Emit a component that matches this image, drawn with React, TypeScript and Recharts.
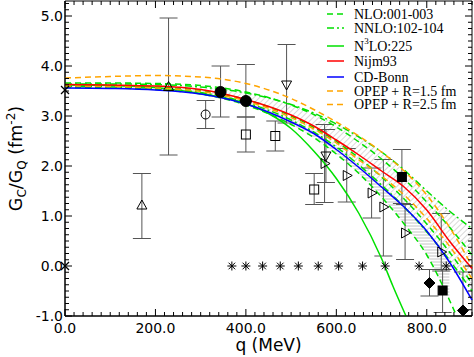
import React from 'react';
import { ComposedChart, Line, Area, Scatter, XAxis, YAxis, ErrorBar, ReferenceArea } from 'recharts';

const GREEN = '#00e000';
const RED = '#ff0000';
const BLUE = '#0000ff';
const ORANGE = '#ffa500';
const ERR = '#555555';

// ---------- theory curves (G_C/G_Q vs q) ----------
const curveQ = [0, 100, 200, 300, 400, 500, 550, 600, 650, 700, 750, 800, 850, 900];
const nijm93 = [3.63, 3.62, 3.6, 3.53, 3.33, 3.02, 2.8, 2.52, 2.22, 1.9, 1.58, 1.12, 0.5, -0.05];
const cdBonn = [3.56, 3.55, 3.52, 3.44, 3.24, 2.88, 2.65, 2.33, 1.97, 1.58, 1.18, 0.7, 0.08, -0.68];
const opep15 = [3.76, 3.79, 3.81, 3.78, 3.65, 3.35, 3.13, 2.88, 2.6, 2.28, 1.9, 1.42, 0.78, 0.0];
const opep25 = [3.6, 3.59, 3.56, 3.49, 3.3, 2.97, 2.74, 2.46, 2.12, 1.8, 1.42, 0.95, 0.4, -0.25];
const nnloUpper = [3.64, 3.64, 3.63, 3.58, 3.46, 3.23, 3.06, 2.84, 2.58, 2.28, 1.92, 1.5, 1.1, 0.75];
const nnloLower = [3.59, 3.58, 3.55, 3.47, 3.27, 2.92, 2.68, 2.38, 2.02, 1.62, 1.18, 0.68, 0.12, -0.5];
const nloUpper = [3.66, 3.66, 3.65, 3.61, 3.48, 3.22, 3.03, 2.78, 2.48, 2.14, 1.74, 1.28, 0.78, 0.22];
const nloMid = [3.61, 3.6, 3.58, 3.51, 3.33, 3.0, 2.77, 2.49, 2.16, 1.78, 1.34, 0.84, 0.28, -0.35];
const nloLowerQ = [0, 100, 200, 300, 400, 500, 550, 600, 650, 700, 750, 800, 850, 866];
const nloLower = [3.57, 3.56, 3.53, 3.44, 3.22, 2.83, 2.57, 2.24, 1.85, 1.38, 0.84, 0.22, -0.68, -1.0];
const n3loQ = [0, 100, 200, 300, 400, 450, 500, 550, 600, 650, 700, 725, 754];
const n3lo = [3.62, 3.61, 3.57, 3.45, 3.25, 3.05, 2.75, 2.3, 1.75, 1.05, 0.15, -0.4, -1.0];

// ---------- experimental points ----------
const crossPts = [{ q: 0, v: 3.52 }, { q: 0, v: 0.0 }];
const triUpPts = [
  { q: 170, v: 1.21, lo: 0.55, hi: 1.85 },
  { q: 229, v: 3.58, lo: 2.22, hi: 4.96 },
];
const circOpenPts = [{ q: 311, v: 3.03, lo: 2.75, hi: 3.31 }];
const circFilledPts = [
  { q: 344, v: 3.48, lo: 2.98, hi: 4.0 },
  { q: 400, v: 3.3, lo: 2.98, hi: 4.03 },
];
const sqOpenPts = [
  { q: 400, v: 2.63, lo: 2.28, hi: 2.98 },
  { q: 465, v: 2.6, lo: 2.3, hi: 2.9 },
  { q: 551, v: 1.53, lo: 1.23, hi: 1.85 },
];
const triDownPts = [
  { q: 490, v: 3.63, lo: 2.86, hi: 4.43 },
  { q: 577, v: 2.21, lo: 1.67, hi: 2.73 },
];
const triRightPts = [
  { q: 574, v: 2.05, lo: 1.27, hi: 2.83 },
  { q: 623, v: 1.81, lo: 1.28, hi: 2.35 },
  { q: 678, v: 1.46, lo: 0.96, hi: 1.96 },
  { q: 704, v: 1.18, lo: 0.2, hi: 2.13 },
  { q: 752, v: 0.66, lo: 0.13, hi: 1.23 },
  { q: 832, v: 0.28, lo: -0.1, hi: 1.05 },
];
const sqFilledPts = [
  { q: 745, v: 1.78, lo: 1.25, hi: 2.33 },
  { q: 835, v: -0.49, lo: -0.93, hi: -0.07 },
];
const diamondPts = [
  { q: 806, v: -0.34, lo: -0.6, hi: -0.07 },
  { q: 880, v: -0.89, lo: -1.0, hi: -0.12 },
];
const asteriskQ = [369, 400, 437, 476, 516, 560, 605, 658, 708, 783, 843];

// ---------- ticks / labels ----------
const xDomain = [0, 900];
const yDomain = [-1, 5.3];
const xMajorTicks = [0, 200, 400, 600, 800];
const xMinorStep = 20;
const yMajorTicks = [-1, 0, 1, 2, 3, 4, 5];
const yMinorPerUnit = 8;

const legendItems = [
  { label: 'NLO:001-003', color: GREEN, dash: '6 4' },
  { label: 'NNLO:102-104', color: GREEN, dash: '7 3 2 3' },
  { label: 'N3LO:225', color: GREEN, dash: undefined },
  { label: 'Nijm93', color: RED, dash: undefined },
  { label: 'CD-Bonn', color: BLUE, dash: undefined },
  { label: 'OPEP + R=1.5 fm', color: ORANGE, dash: '6 4' },
  { label: 'OPEP + R=2.5 fm', color: ORANGE, dash: '6 4' },
];

// ---------- derived tables ----------
const zip = (qs: number[], vs: number[]) => qs.map((q, i) => ({ q, v: vs[i] }));
const withErr = (pts: { q: number; v: number; lo: number; hi: number }[]) =>
  pts.map((p) => ({ ...p, err: [p.v - p.lo, p.hi - p.v] }));
const xTicks: number[] = [];
for (let q = xDomain[0]; q <= xDomain[1]; q += xMinorStep) xTicks.push(q);
const yTicks: number[] = [];
for (let k = -1 * yMinorPerUnit; k <= 5.3 * yMinorPerUnit; k++) yTicks.push(k / yMinorPerUnit);
const nnloBand = curveQ.map((q, i) => ({ q, band: [nnloLower[i], nnloUpper[i]] }));
const lowBand = curveQ.slice(0, 13).map((q, i) => ({ q, band: [nloLower[i], nnloLower[i]] }));
const asteriskPts = asteriskQ.map((q) => ({ q, v: 0 }));

// ---------- layout ----------
const W = 474;
const H = 357;
const PL = 65;
const PR = 472;
const PT = 1;
const PB = 316;
const TICK_FONT = 'DejaVu Sans, sans-serif';

const isMajorX = (v: number) => xMajorTicks.includes(v);
const isMajorY = (v: number) => yMajorTicks.some((m) => Math.abs(m - v) < 1e-9);

// bottom tick also draws the matching inward tick on the top frame
const BottomTick = (p: any) => {
  const x = p.x;
  const v = p.payload.value;
  const maj = isMajorX(v);
  const len = maj ? 7 : 4;
  return (
    <g>
      <line x1={x} x2={x} y1={PB} y2={PB - len} stroke="#000" strokeWidth={1} />
      <line x1={x} x2={x} y1={PT} y2={PT + len} stroke="#000" strokeWidth={1} />
      {maj && (
        <text x={x} y={PB + 17} textAnchor="middle" fontFamily={TICK_FONT} fontSize={14} fill="#000">
          {v.toFixed(1)}
        </text>
      )}
    </g>
  );
};
// left tick also draws the matching inward tick on the right frame
const LeftTick = (p: any) => {
  const y = p.y;
  const v = p.payload.value;
  const maj = isMajorY(v);
  const len = maj ? 7 : 4;
  return (
    <g>
      <line x1={PL} x2={PL + len} y1={y} y2={y} stroke="#000" strokeWidth={1} />
      <line x1={PR} x2={PR - len} y1={y} y2={y} stroke="#000" strokeWidth={1} />
      {maj && (
        <text x={63} y={y + 5} textAnchor="end" fontFamily={TICK_FONT} fontSize={14} fill="#000">
          {v.toFixed(1)}
        </text>
      )}
    </g>
  );
};

const XTitle = () => (
  <text x={(PL + PR) / 2} y={351} textAnchor="middle" fontFamily={TICK_FONT} fontSize={17} fill="#000">
    q (MeV)
  </text>
);
const YTitle = () => (
  <text
    transform="rotate(-90)"
    x={-(PT + PB) / 2}
    y={22}
    textAnchor="middle"
    fontFamily={TICK_FONT}
    fontSize={17.5}
    fill="#000"
  >
    <tspan>G</tspan>
    <tspan fontSize={12} dy={4}>C</tspan>
    <tspan dy={-4}>/G</tspan>
    <tspan fontSize={12} dy={4}>Q</tspan>
    <tspan dy={-4}> (fm</tspan>
    <tspan fontSize={12} dy={-7}>-2</tspan>
    <tspan dy={7}>)</tspan>
  </text>
);

// ---------- symbols ----------
const shapeFor = (kind: string) => (p: any) => {
  const { cx, cy } = p;
  if (cx == null || cy == null) return <g />;
  switch (kind) {
    case 'cross':
      return (
        <g stroke="#000" strokeWidth={1.2}>
          <line x1={cx - 4} y1={cy - 4} x2={cx + 4} y2={cy + 4} />
          <line x1={cx - 4} y1={cy + 4} x2={cx + 4} y2={cy - 4} />
        </g>
      );
    case 'triUp':
      return <polygon points={`${cx},${cy - 5.5} ${cx - 5},${cy + 3.5} ${cx + 5},${cy + 3.5}`} fill="none" stroke="#000" strokeWidth={1} />;
    case 'triDown':
      return <polygon points={`${cx},${cy + 5.5} ${cx - 5},${cy - 3.5} ${cx + 5},${cy - 3.5}`} fill="none" stroke="#000" strokeWidth={1} />;
    case 'triRight':
      return <polygon points={`${cx + 5.5},${cy} ${cx - 3.5},${cy - 5} ${cx - 3.5},${cy + 5}`} fill="none" stroke="#000" strokeWidth={1} />;
    case 'circOpen':
      return <circle cx={cx} cy={cy} r={4.5} fill="none" stroke="#000" strokeWidth={1} />;
    case 'circFilled':
      return <circle cx={cx} cy={cy} r={5.5} fill="#000" stroke="#000" strokeWidth={1} />;
    case 'sqOpen':
      return <rect x={cx - 4.5} y={cy - 4.5} width={9} height={9} fill="none" stroke="#000" strokeWidth={1} />;
    case 'sqFilled':
      return <rect x={cx - 4.5} y={cy - 4.5} width={9} height={9} fill="#000" stroke="#000" strokeWidth={1} />;
    case 'diamond':
      return <polygon points={`${cx},${cy - 5.5} ${cx + 5.5},${cy} ${cx},${cy + 5.5} ${cx - 5.5},${cy}`} fill="#000" stroke="#000" strokeWidth={1} />;
    case 'asterisk':
      return (
        <g stroke="#000" strokeWidth={1}>
          <line x1={cx - 4.5} y1={cy} x2={cx + 4.5} y2={cy} />
          <line x1={cx} y1={cy - 4.5} x2={cx} y2={cy + 4.5} />
          <line x1={cx - 3.3} y1={cy - 3.3} x2={cx + 3.3} y2={cy + 3.3} />
          <line x1={cx - 3.3} y1={cy + 3.3} x2={cx + 3.3} y2={cy - 3.3} />
        </g>
      );
    default:
      return <g />;
  }
};

const legendRowY = [14, 28, 46, 61, 77, 91, 104.5];
const LegendBox = () => (
  <svg width={152} height={112} style={{ display: 'block', overflow: 'visible' }}>
    {legendItems.map((it, i) => {
      const y = legendRowY[i];
      return (
        <g key={it.label}>
          <line x1={6} x2={23} y1={y} y2={y} stroke={it.color} strokeWidth={1.5} strokeDasharray={it.dash} />
          {it.label === 'N3LO:225' ? (
            <text x={33} y={y + 4.6} fontFamily="Liberation Serif, serif" fontSize={14} fill="#000">
              <tspan>N</tspan>
              <tspan fontSize={9} dy={-7}>3</tspan>
              <tspan dy={7}>LO:225</tspan>
            </text>
          ) : (
            <text x={33} y={y + 4.6} fontFamily="Liberation Serif, serif" fontSize={14} fill="#000">
              {it.label}
            </text>
          )}
        </g>
      );
    })}
  </svg>
);

const lineProps = {
  xAxisId: 'x',
  yAxisId: 'y',
  dataKey: 'v',
  type: 'monotone' as const,
  dot: false,
  activeDot: false,
  isAnimationActive: false,
  strokeWidth: 1.5,
};

const scatterSet = (key: string, data: any[], kind: string, err: boolean) => (
  <Scatter
    key={key}
    xAxisId="x"
    yAxisId="y"
    data={data}
    dataKey="v"
    shape={shapeFor(kind)}
    isAnimationActive={false}
  >
    {err && <ErrorBar dataKey="err" direction="y" width={9} stroke={ERR} strokeWidth={1} />}
  </Scatter>
);

export default function App() {
  return (
    <div style={{ position: 'absolute', left: 0, top: 0, width: W, height: H, background: '#fff' }}>
      <ComposedChart width={W} height={H} margin={{ top: PT, right: W - PR, left: 0, bottom: 0 }}>
        <defs>
          <pattern id="diagHatch" width="4" height="4" patternUnits="userSpaceOnUse" patternTransform="rotate(45)">
            <line x1="0" y1="0" x2="0" y2="4" stroke="#bdbdbd" strokeWidth="1.2" />
          </pattern>
          <pattern id="horizHatch" width="4" height="3" patternUnits="userSpaceOnUse">
            <line x1="0" y1="1" x2="4" y2="1" stroke="#c4c4c4" strokeWidth="1" />
          </pattern>
        </defs>
        <XAxis
          xAxisId="x"
          dataKey="q"
          type="number"
          domain={xDomain}
          ticks={xTicks}
          interval={0}
          height={H - PB}
          tickLine={false}
          axisLine={{ stroke: '#000' }}
          tick={<BottomTick />}
          label={<XTitle />}
        />
        <YAxis
          yAxisId="y"
          type="number"
          domain={yDomain}
          ticks={yTicks}
          interval={0}
          width={PL}
          tickLine={false}
          axisLine={{ stroke: '#000' }}
          tick={<LeftTick />}
          label={<YTitle />}
        />
        <ReferenceArea
          xAxisId="x"
          yAxisId="y"
          x1={xDomain[0]}
          x2={xDomain[1]}
          y1={yDomain[0]}
          y2={yDomain[1]}
          fill="none"
          fillOpacity={0}
          stroke="#000"
          strokeWidth={1}
        />
        <Area
          xAxisId="x"
          yAxisId="y"
          data={nnloBand}
          dataKey="band"
          type="monotone"
          stroke="none"
          fill="url(#diagHatch)"
          fillOpacity={1}
          isAnimationActive={false}
          activeDot={false}
        />
        <Area
          xAxisId="x"
          yAxisId="y"
          data={lowBand}
          dataKey="band"
          type="monotone"
          stroke="none"
          fill="url(#horizHatch)"
          fillOpacity={1}
          isAnimationActive={false}
          activeDot={false}
        />
        {scatterSet('cross', crossPts, 'cross', false)}
        {scatterSet('triUp', withErr(triUpPts), 'triUp', true)}
        {scatterSet('circOpen', withErr(circOpenPts), 'circOpen', true)}
        {scatterSet('circFilled', withErr(circFilledPts), 'circFilled', true)}
        {scatterSet('sqOpen', withErr(sqOpenPts), 'sqOpen', true)}
        {scatterSet('triDown', withErr(triDownPts), 'triDown', true)}
        {scatterSet('triRight', withErr(triRightPts), 'triRight', true)}
        {scatterSet('sqFilled', withErr(sqFilledPts), 'sqFilled', true)}
        {scatterSet('diamond', withErr(diamondPts), 'diamond', true)}
        {scatterSet('asterisk', asteriskPts, 'asterisk', false)}
        <Line {...lineProps} data={zip(curveQ, nnloUpper)} stroke={GREEN} strokeDasharray="7 3 2 3" />
        <Line {...lineProps} data={zip(curveQ, nnloLower)} stroke={GREEN} strokeDasharray="7 3 2 3" />
        <Line {...lineProps} data={zip(curveQ, nloUpper)} stroke={GREEN} strokeDasharray="6 4" />
        <Line {...lineProps} data={zip(curveQ, nloMid)} stroke={GREEN} strokeDasharray="6 4" />
        <Line {...lineProps} data={zip(nloLowerQ, nloLower)} stroke={GREEN} strokeDasharray="6 4" />
        <Line {...lineProps} data={zip(n3loQ, n3lo)} stroke={GREEN} />
        <Line {...lineProps} data={zip(curveQ, opep15)} stroke={ORANGE} strokeDasharray="6 4" />
        <Line {...lineProps} data={zip(curveQ, opep25)} stroke={ORANGE} strokeDasharray="6 4" />
        <Line {...lineProps} data={zip(curveQ, nijm93)} stroke={RED} />
        <Line {...lineProps} data={zip(curveQ, cdBonn)} stroke={BLUE} />
      </ComposedChart>
      <div style={{ position: 'absolute', left: 321, top: 0, width: 152, height: 112, pointerEvents: 'none' }}>
        <LegendBox />
      </div>
    </div>
  );
}
